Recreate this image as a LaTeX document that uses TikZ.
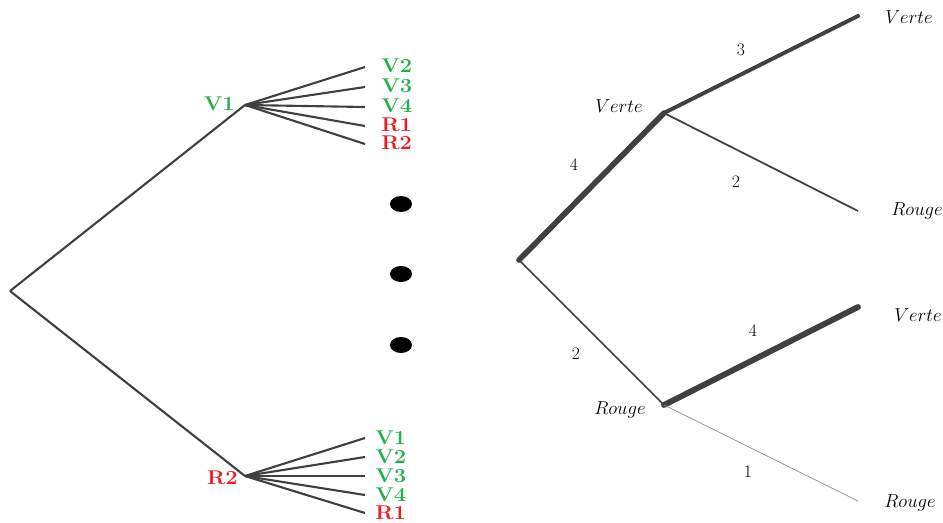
\RequirePackage{fix-cm}
\documentclass[tikz,border=0pt]{standalone}
\usepackage{amsmath}
\usepackage{xcolor}
\usepackage{tikz}
\usetikzlibrary{positioning}
\tikzset{>=stealth}
\definecolor{vert}{RGB}{34,177,76}
\definecolor{rouge}{RGB}{237,28,36}

\begin{document}
\begin{tikzpicture}[x=0.03cm,y=-0.03cm,
    branche/.style={draw=black!75,line width=1.8pt},
    etiq/.style={font=\fontsize{17}{17}\selectfont\bfseries,inner sep=0pt,xscale=1.1},
    mot/.style={font=\fontsize{16}{16}\selectfont,inner sep=0pt},
    poids/.style={font=\fontsize{15}{15}\selectfont,inner sep=0pt}]
    \useasboundingbox (0,0) rectangle (943,522);
    % arbre de gauche
    \coordinate (r) at (10,291);
    \coordinate (a) at (245,105);
    \coordinate (b) at (245,476);
    \node[etiq,text=vert,anchor=east] (la) at (235,104) {V1};
    \node[etiq,text=rouge,anchor=east] (lb) at (238,478) {R2};
    \path[branche] (r) edge (a) edge (b);
    \foreach \y/\t/\c [count=\i] in {66/V2/vert,86/V3/vert,106/V4/vert,125/R1/rouge,143/R2/rouge}
    {
        \coordinate (a\i) at (365,{\y+1});
        \node[etiq,text=\c,anchor=west] (la\i) at (381,\y) {\t};
        \draw[branche] (a) -- (a\i);
    }
    \foreach \y/\t/\c [count=\i] in {438/V1/vert,457/V2/vert,476/V3/vert,495/V4/vert,513/R1/rouge}
    {
        \coordinate (b\i) at (365,\y);
        \node[etiq,text=\c,anchor=west] (lb\i) at (375,\y) {\t};
        \draw[branche] (b) -- (b\i);
    }
    \foreach \y in {204,274,345}
        \fill (401,\y) ellipse [x radius=0.33cm,y radius=0.24cm];
    % arbre de droite
    \coordinate (s) at (519,260);
    \coordinate (sv) at (664,113);
    \coordinate (sr) at (664,405);
    \coordinate (vv) at (858,16);
    \coordinate (vr) at (858,211);
    \coordinate (rv) at (858,307);
    \coordinate (rr) at (858,501);
    \node[mot] (lsv) at (619,106) {$Verte$};
    \node[mot] (lsr) at (620,410) {$Rouge$};
    \node[mot] (lvv) at (909,17) {$Verte$};
    \node[mot] (lvr) at (917,211) {$Rouge$};
    \node[mot] (lrv) at (918,315) {$Verte$};
    \node[mot] (lrr) at (910,503) {$Rouge$};
    \draw[black!75,line width=4.8pt,line cap=round,line join=round] (s) -- (sv);
    \draw[black!75,line width=1.5pt] (s) -- (sr);
    \draw[black!75,line width=3.4pt,line cap=round] (sv) -- (vv);
    \draw[black!75,line width=1.5pt] (sv) -- (vr);
    \draw[black!75,line width=5pt,line cap=round] (sr) -- (rv);
    \draw[black!45,line width=0.6pt] (sr) -- (rr);
    \node[poids] (p1) at (574,165) {4};
    \node[poids] (p2) at (576,354) {2};
    \node[poids] (p3) at (741,50) {3};
    \node[poids] (p4) at (736,182) {2};
    \node[poids] (p5) at (753,331) {4};
    \node[poids] (p6) at (748,472) {1};
\end{tikzpicture}
\end{document}
